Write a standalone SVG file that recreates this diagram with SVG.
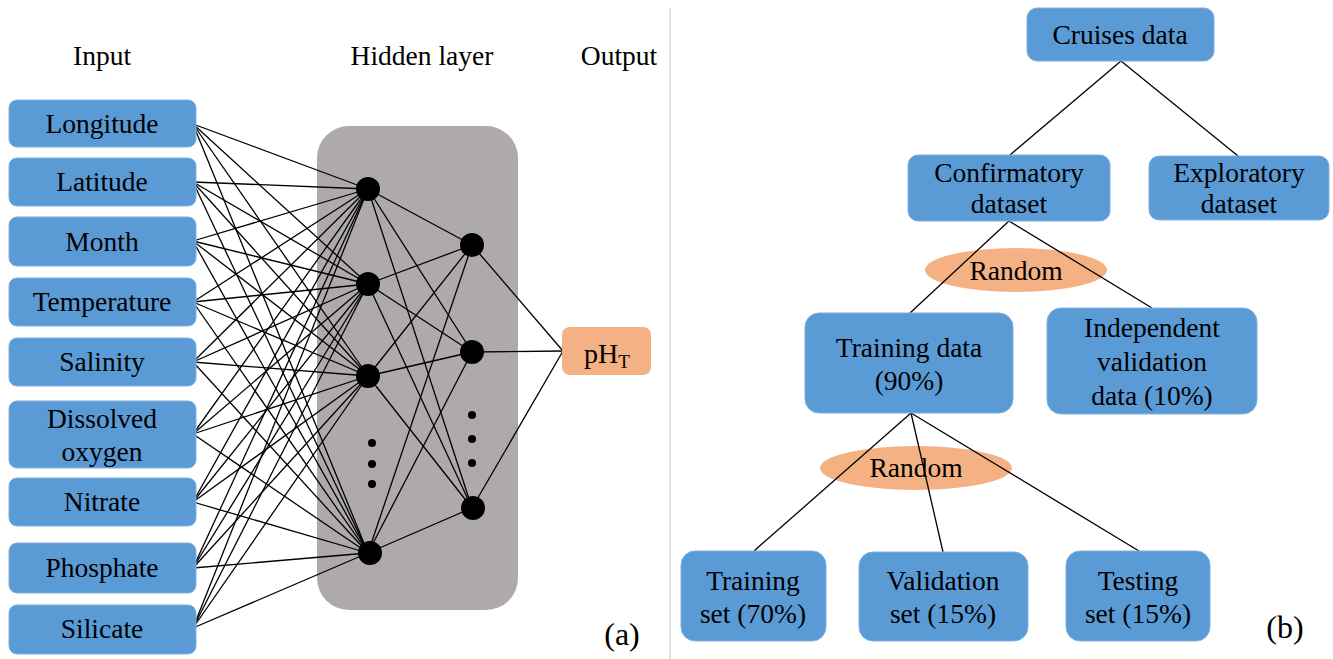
<svg xmlns="http://www.w3.org/2000/svg" width="1333" height="659" viewBox="0 0 1333 659" font-family="'Liberation Serif', serif">
<style>
.box{fill:#5B9BD5;stroke:#7FB0DF;stroke-width:1}
.org{fill:#F4B183}
.c line{stroke:#000;stroke-width:1.3}
.n{fill:#000}
</style>
<rect width="1333" height="659" fill="#fff"/>
<line x1="670" y1="8" x2="670" y2="659" stroke="#D9D9D9" stroke-width="1.5"/>
<text x="102" y="65" text-anchor="middle" font-family="Liberation Serif" font-size="27.5">Input</text>
<text x="422" y="65" text-anchor="middle" font-family="Liberation Serif" font-size="27.5">Hidden layer</text>
<text x="619" y="65" text-anchor="middle" font-family="Liberation Serif" font-size="27.5">Output</text>
<rect x="317" y="126" width="201" height="484" rx="32" fill="#AEAAAA"/>
<g id="random1"><ellipse class="org" cx="1016" cy="270" rx="91" ry="22"/><text x="1016" y="280" text-anchor="middle" font-family="Liberation Serif" font-size="27.5"><tspan>Random</tspan></text></g>
<g id="random2"><ellipse class="org" cx="916" cy="468" rx="96" ry="22"/><text x="869.4" y="477" font-family="Liberation Serif" font-size="27.5">Random</text></g>
<g class="c" id="connectors">
<line x1="193" y1="124" x2="368" y2="189"/><line x1="193" y1="124" x2="368" y2="284"/><line x1="193" y1="124" x2="368" y2="376"/><line x1="193" y1="124" x2="368" y2="553"/>
<line x1="193" y1="182" x2="368" y2="189"/><line x1="193" y1="182" x2="368" y2="284"/><line x1="193" y1="182" x2="368" y2="376"/><line x1="193" y1="182" x2="368" y2="553"/>
<line x1="193" y1="241" x2="368" y2="189"/><line x1="193" y1="241" x2="368" y2="284"/><line x1="193" y1="241" x2="368" y2="376"/><line x1="193" y1="241" x2="368" y2="553"/>
<line x1="193" y1="302" x2="368" y2="189"/><line x1="193" y1="302" x2="368" y2="284"/><line x1="193" y1="302" x2="368" y2="376"/><line x1="193" y1="302" x2="368" y2="553"/>
<line x1="193" y1="362" x2="368" y2="189"/><line x1="193" y1="362" x2="368" y2="284"/><line x1="193" y1="362" x2="368" y2="376"/><line x1="193" y1="362" x2="368" y2="553"/>
<line x1="193" y1="434" x2="368" y2="189"/><line x1="193" y1="434" x2="368" y2="284"/><line x1="193" y1="434" x2="368" y2="376"/><line x1="193" y1="434" x2="368" y2="553"/>
<line x1="193" y1="502" x2="368" y2="189"/><line x1="193" y1="502" x2="368" y2="284"/><line x1="193" y1="502" x2="368" y2="376"/><line x1="193" y1="502" x2="368" y2="553"/>
<line x1="193" y1="568" x2="368" y2="189"/><line x1="193" y1="568" x2="368" y2="284"/><line x1="193" y1="568" x2="368" y2="376"/><line x1="193" y1="568" x2="368" y2="553"/>
<line x1="193" y1="628" x2="368" y2="189"/><line x1="193" y1="628" x2="368" y2="284"/><line x1="193" y1="628" x2="368" y2="376"/><line x1="193" y1="628" x2="368" y2="553"/>
<line x1="368" y1="189" x2="472" y2="245"/><line x1="368" y1="189" x2="472" y2="352"/><line x1="368" y1="189" x2="472" y2="508"/>
<line x1="368" y1="284" x2="472" y2="245"/><line x1="368" y1="284" x2="472" y2="352"/><line x1="368" y1="284" x2="472" y2="508"/>
<line x1="368" y1="376" x2="472" y2="245"/><line x1="368" y1="376" x2="472" y2="352"/><line x1="368" y1="376" x2="472" y2="508"/>
<line x1="368" y1="553" x2="472" y2="245"/><line x1="368" y1="553" x2="472" y2="352"/><line x1="368" y1="553" x2="472" y2="508"/>
<line x1="472" y1="245" x2="563" y2="351"/><line x1="472" y1="352" x2="563" y2="351"/><line x1="472" y1="508" x2="563" y2="351"/>
<line x1="1121" y1="61" x2="1010" y2="155"/><line x1="1121" y1="61" x2="1238" y2="156"/>
<line x1="1009" y1="221" x2="910" y2="313"/><line x1="1009" y1="221" x2="1152" y2="308"/>
<line x1="911" y1="413" x2="754" y2="551"/><line x1="911" y1="413" x2="943" y2="552"/><line x1="911" y1="413" x2="1139" y2="551"/>
</g>
<g id="hidden-nodes">
<circle class="n" cx="368" cy="189" r="12"/><circle class="n" cx="368" cy="284" r="12"/><circle class="n" cx="368" cy="376" r="12"/><circle class="n" cx="370" cy="553" r="12"/>
<circle class="n" cx="372" cy="443" r="4"/><circle class="n" cx="372" cy="464" r="4"/><circle class="n" cx="372" cy="484" r="4"/>
<circle class="n" cx="472" cy="245" r="12"/><circle class="n" cx="472" cy="352" r="12"/><circle class="n" cx="473" cy="508" r="12"/>
<circle class="n" cx="472" cy="415" r="4"/><circle class="n" cx="472" cy="439" r="4"/><circle class="n" cx="472" cy="463" r="4"/>
</g>
<g id="in-longitude"><rect class="box" x="9" y="100" width="187" height="47" rx="8"/><text x="45.5" y="133" font-family="Liberation Serif" font-size="27.5">Longitude</text></g>
<g id="in-latitude"><rect class="box" x="9" y="158" width="187" height="48" rx="8"/><text x="56.2" y="191" font-family="Liberation Serif" font-size="27.5">Latitude</text></g>
<g id="in-month"><rect class="box" x="9" y="217" width="187" height="49" rx="8"/><text x="65.3" y="251" font-family="Liberation Serif" font-size="27.5">Month</text></g>
<g id="in-temperature"><rect class="box" x="9" y="278" width="187" height="48" rx="8"/><text x="102" y="311" text-anchor="middle" font-family="Liberation Serif" font-size="27.5"><tspan>Temperature</tspan></text></g>
<g id="in-salinity"><rect class="box" x="9" y="338" width="187" height="48" rx="8"/><text x="102" y="371" text-anchor="middle" font-family="Liberation Serif" font-size="27.5"><tspan>Salinity</tspan></text></g>
<g id="in-do"><rect class="box" x="9" y="401" width="187" height="67" rx="8"/><text x="102" y="428" text-anchor="middle" font-size="27.5">Dissolved</text><text x="102" y="461" text-anchor="middle" font-size="27.5">oxygen</text></g>
<g id="in-nitrate"><rect class="box" x="9" y="478" width="187" height="48" rx="8"/><text x="102" y="511" text-anchor="middle" font-family="Times New Roman" font-size="27.5">Nitrate</text></g>
<g id="in-phosphate"><rect class="box" x="9" y="543" width="187" height="50" rx="8"/><text x="102" y="577" text-anchor="middle" font-family="serif" font-size="27.5">Phosphate</text></g>
<g id="in-silicate"><rect class="box" x="9" y="605" width="187" height="49" rx="8"/><text x="102" y="638" text-anchor="middle" font-family="Liberation Serif" font-size="27.5"><tspan x="102">Silicate</tspan></text></g>
<g id="out-ph"><rect class="org" x="562" y="327" width="89" height="48" rx="8"/><text x="584" y="363" font-family="Liberation Serif" font-size="28">pH<tspan dy="5" font-size="19">T</tspan></text></g>
<text x="622" y="645" text-anchor="middle" font-family="Liberation Serif" font-size="32">(a)</text>
<g id="cruises"><rect class="box" x="1027" y="8" width="187" height="53" rx="10"/><text x="1120" y="44" text-anchor="middle" font-family="Liberation Serif" font-size="27.5"><tspan>Cruises data</tspan></text></g>
<g id="confirmatory"><rect class="box" x="908" y="155" width="202" height="66" rx="10"/><text text-anchor="middle" font-family="Liberation Serif" font-size="27.5"><tspan x="1009" y="182">Confirmatory</tspan><tspan x="1009" y="213">dataset</tspan></text></g>
<g id="exploratory"><rect class="box" x="1149" y="156" width="180" height="64" rx="10"/><text text-anchor="middle" font-family="Liberation Serif" font-size="27.5"><tspan x="1239" y="182">Exploratory</tspan><tspan x="1239" y="213">dataset</tspan></text></g>
<g id="training-data"><rect class="box" x="805" y="313" width="208" height="100" rx="14"/><text text-anchor="middle" font-family="Liberation Serif" font-size="27.5"><tspan x="909" y="357">Training data</tspan><tspan x="909" y="390">(90%)</tspan></text></g>
<g id="independent"><rect class="box" x="1047" y="308" width="210" height="106" rx="14"/><text text-anchor="middle" font-family="Liberation Serif" font-size="27.5"><tspan x="1152" y="337">Independent</tspan><tspan x="1152" y="371">validation</tspan><tspan x="1152" y="405">data (10%)</tspan></text></g>
<g id="training-set"><rect class="box" x="681" y="551" width="145" height="90" rx="14"/><text text-anchor="middle" font-family="Liberation Serif" font-size="27.5"><tspan x="753" y="590">Training</tspan><tspan x="753" y="623">set (70%)</tspan></text></g>
<g id="validation-set"><rect class="box" x="859" y="552" width="169" height="89" rx="14"/><text text-anchor="middle" font-family="Liberation Serif" font-size="27.5"><tspan x="943" y="590">Validation</tspan><tspan x="943" y="623">set (15%)</tspan></text></g>
<g id="testing-set"><rect class="box" x="1066" y="551" width="144" height="90" rx="14"/><text text-anchor="middle" font-family="Liberation Serif" font-size="27.5"><tspan x="1138" y="590">Testing</tspan><tspan x="1138" y="623">set (15%)</tspan></text></g>
<text x="1285" y="638" text-anchor="middle" font-family="Liberation Serif" font-size="32">(b)</text>
</svg>
